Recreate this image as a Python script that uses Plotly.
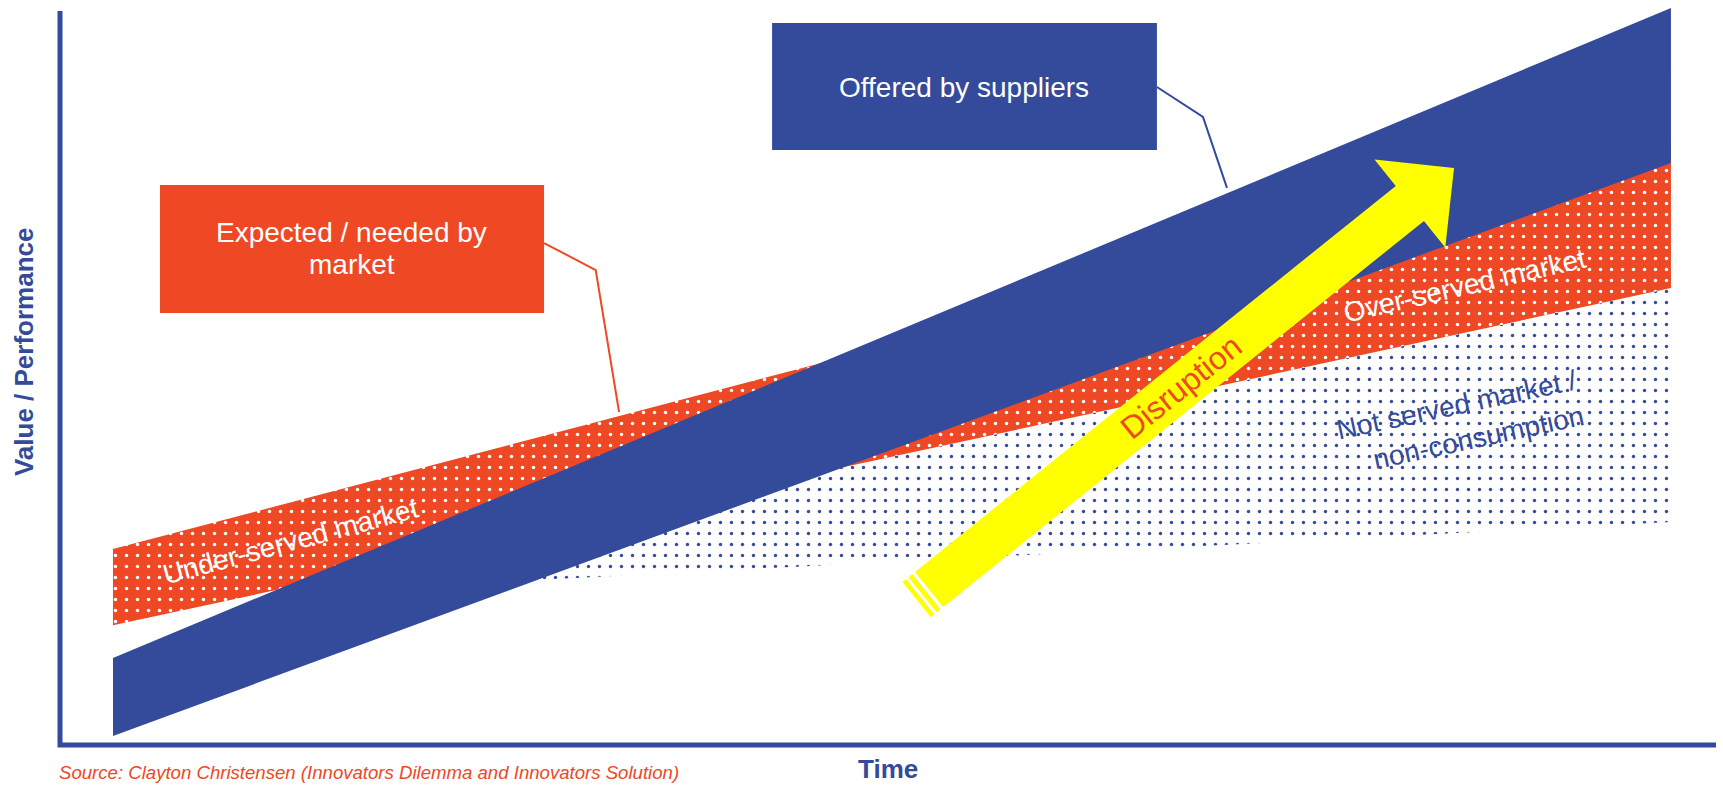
import math
import plotly.graph_objects as go

# ---------------- data (Time 0-100, Value / Performance 0-100) ----------------
band_time = [3.2, 97.28]                     # start / end of the two trajectories
offered_upper = [11.85, 100.41]              # offered by suppliers (upper edge)
offered_lower = [1.23, 79.29]                # offered by suppliers (lower edge)
needed_upper = [26.70, 82.43]                # expected / needed by market (upper edge)
needed_lower = [16.30, 62.26]                # expected / needed by market (lower edge)

nonconsumption_time = [28.74, 97.28, 97.28, 28.74]
nonconsumption_value = [22.48, 30.38, 62.26, 28.78]

disruption_start = [52.48, 21.19]            # tail of the disruption arrow
disruption_end = [84.18, 78.61]              # tip of the disruption arrow

supplier_box_time = [43.0, 66.24]
supplier_box_value = [81.06, 98.37]
market_box_time = [6.04, 29.23]
market_box_value = [58.86, 76.29]

supplier_leader_time = [66.24, 69.02, 70.47]
supplier_leader_value = [89.65, 85.56, 75.9]
market_leader_time = [29.23, 32.35, 33.76]
market_leader_value = [68.39, 64.71, 45.37]

# ---------------- styles ----------------
BLUE = "#344A9B"
RED = "#EE4824"
YELLOW = "#FFFF00"
FONT = "Liberation Sans, Arial, Helvetica, sans-serif"

W, H = 1723, 785
xr = [-60 / 16.56, (W - 60) / 16.56]
yr = [(745 - H) / 7.34, 745 / 7.34]
kx = W / (xr[1] - xr[0])
ky = H / (yr[1] - yr[0])

fig = go.Figure()

# not served market / non-consumption (blue dots)
fig.add_trace(go.Scatter(
    x=nonconsumption_time + [nonconsumption_time[0]],
    y=nonconsumption_value + [nonconsumption_value[0]],
    mode="lines", fill="toself", line=dict(width=0, color="rgba(0,0,0,0)"),
    fillcolor="white",
    fillpattern=dict(shape=".", bgcolor="white", fgcolor=BLUE, size=11,
                     solidity=0.075, fillmode="replace"),
    hoverinfo="skip", showlegend=False))

# expected / needed by market (red with white dots)
fig.add_trace(go.Scatter(
    x=[band_time[0], band_time[1], band_time[1], band_time[0], band_time[0]],
    y=[needed_lower[0], needed_lower[1], needed_upper[1], needed_upper[0], needed_lower[0]],
    mode="lines", fill="toself", line=dict(width=0, color="rgba(0,0,0,0)"),
    fillcolor=RED,
    fillpattern=dict(shape=".", bgcolor=RED, fgcolor="white", size=11,
                     solidity=0.08, fillmode="replace"),
    hoverinfo="skip", showlegend=False))

# offered by suppliers (solid blue)
fig.add_trace(go.Scatter(
    x=[band_time[0], band_time[1], band_time[1], band_time[0], band_time[0]],
    y=[offered_lower[0], offered_lower[1], offered_upper[1], offered_upper[0], offered_lower[0]],
    mode="lines", fill="toself", line=dict(width=0, color=BLUE),
    fillcolor=BLUE, hoverinfo="skip", showlegend=False))

# leader lines
fig.add_trace(go.Scatter(x=market_leader_time, y=market_leader_value, mode="lines",
                         line=dict(color=RED, width=2), hoverinfo="skip", showlegend=False))
fig.add_trace(go.Scatter(x=supplier_leader_time, y=supplier_leader_value, mode="lines",
                         line=dict(color=BLUE, width=2), hoverinfo="skip", showlegend=False))

# disruption arrow (geometry computed in pixel space)
SHAFT_HALF, HEAD_HALF, HEAD_LEN = 22.5, 56.5, 56.6
STRIPES = [(3.5, 8.5), (11.5, 16.0)]
tx, ty = disruption_start[0] * kx, disruption_start[1] * ky
px_, py_ = disruption_end[0] * kx, disruption_end[1] * ky
L = math.hypot(px_ - tx, py_ - ty)
dx, dy = (px_ - tx) / L, (py_ - ty) / L
nx, ny = -dy, dx
bx, by = px_ - HEAD_LEN * dx, py_ - HEAD_LEN * dy
pts = [
    (tx + SHAFT_HALF * nx, ty + SHAFT_HALF * ny),
    (bx + SHAFT_HALF * nx, by + SHAFT_HALF * ny),
    (bx + HEAD_HALF * nx, by + HEAD_HALF * ny),
    (px_, py_),
    (bx - HEAD_HALF * nx, by - HEAD_HALF * ny),
    (bx - SHAFT_HALF * nx, by - SHAFT_HALF * ny),
    (tx - SHAFT_HALF * nx, ty - SHAFT_HALF * ny),
]
pts.append(pts[0])
fig.add_trace(go.Scatter(x=[p[0] / kx for p in pts], y=[p[1] / ky for p in pts],
                         mode="lines", fill="toself", fillcolor=YELLOW,
                         line=dict(width=0, color=YELLOW), hoverinfo="skip", showlegend=False))
for a, b in STRIPES:
    sp = [
        (tx - a * dx + SHAFT_HALF * nx, ty - a * dy + SHAFT_HALF * ny),
        (tx - a * dx - SHAFT_HALF * nx, ty - a * dy - SHAFT_HALF * ny),
        (tx - b * dx - SHAFT_HALF * nx, ty - b * dy - SHAFT_HALF * ny),
        (tx - b * dx + SHAFT_HALF * nx, ty - b * dy + SHAFT_HALF * ny),
    ]
    sp.append(sp[0])
    fig.add_trace(go.Scatter(x=[p[0] / kx for p in sp], y=[p[1] / ky for p in sp],
                             mode="lines", fill="toself", fillcolor=YELLOW,
                             line=dict(width=0, color=YELLOW), hoverinfo="skip", showlegend=False))
arrow_angle = math.degrees(math.atan2(dy, dx))

# shapes: callout boxes and axes
shapes = [
    dict(type="rect", xref="x", yref="y", x0=market_box_time[0], x1=market_box_time[1],
         y0=market_box_value[0], y1=market_box_value[1], fillcolor=RED, line=dict(width=0)),
    dict(type="rect", xref="x", yref="y", x0=supplier_box_time[0], x1=supplier_box_time[1],
         y0=supplier_box_value[0], y1=supplier_box_value[1], fillcolor=BLUE, line=dict(width=0)),
    dict(type="path", xref="x", yref="y", path="M 0,100 L 0,0 L 100,0",
         line=dict(color=BLUE, width=5)),
]

def ann(text, x, y, size, color, angle=0, **kw):
    d = dict(text=text, x=x, y=y, xref="x", yref="y", showarrow=False,
             textangle=angle, xanchor="center", yanchor="middle",
             font=dict(family=FONT, size=size, color=color))
    d.update(kw)
    return d

annotations = [
    ann("Offered by suppliers", 54.59, 89.56, 28, "white"),
    ann("Expected / needed by", 17.63, 69.89, 28, "white"),
    ann("market", 17.63, 65.49, 28, "white"),
    ann("Under-served market", 13.89, 27.72, 28, "white", angle=-15),
    ann("Over-served market", 84.84, 62.6, 28, "white", angle=-13),
    ann("Not served market /<br>non-consumption", 84.6, 44.0, 28, BLUE, angle=-12, align="right"),
    ann("Disruption", 67.69, 48.77, 32, RED, angle=-arrow_angle),
    dict(text="Value / Performance", x=-2.17, y=53.54, xref="x", yref="y", showarrow=False,
         textangle=-90, xanchor="center", yanchor="middle",
         font=dict(family=FONT, size=26, color=BLUE, weight="bold")),
    dict(text="Time", x=50.0, y=-3.27, xref="x", yref="y", showarrow=False,
         xanchor="center", yanchor="middle",
         font=dict(family=FONT, size=26, color=BLUE, weight="bold")),
    dict(text="Source: Clayton Christensen (Innovators Dilemma and Innovators Solution)",
         x=57 / W, y=0.0, xref="paper", yref="paper", showarrow=False,
         xanchor="left", yanchor="bottom",
         font=dict(family=FONT, size=18.6, color=RED, style="italic")),
]

fig.update_layout(
    width=W, height=H, margin=dict(l=0, r=0, t=0, b=0),
    paper_bgcolor="white", plot_bgcolor="white",
    xaxis=dict(range=xr, visible=False, fixedrange=True),
    yaxis=dict(range=yr, visible=False, fixedrange=True),
    shapes=shapes, annotations=annotations, showlegend=False,
)

fig.write_html("out.html")
